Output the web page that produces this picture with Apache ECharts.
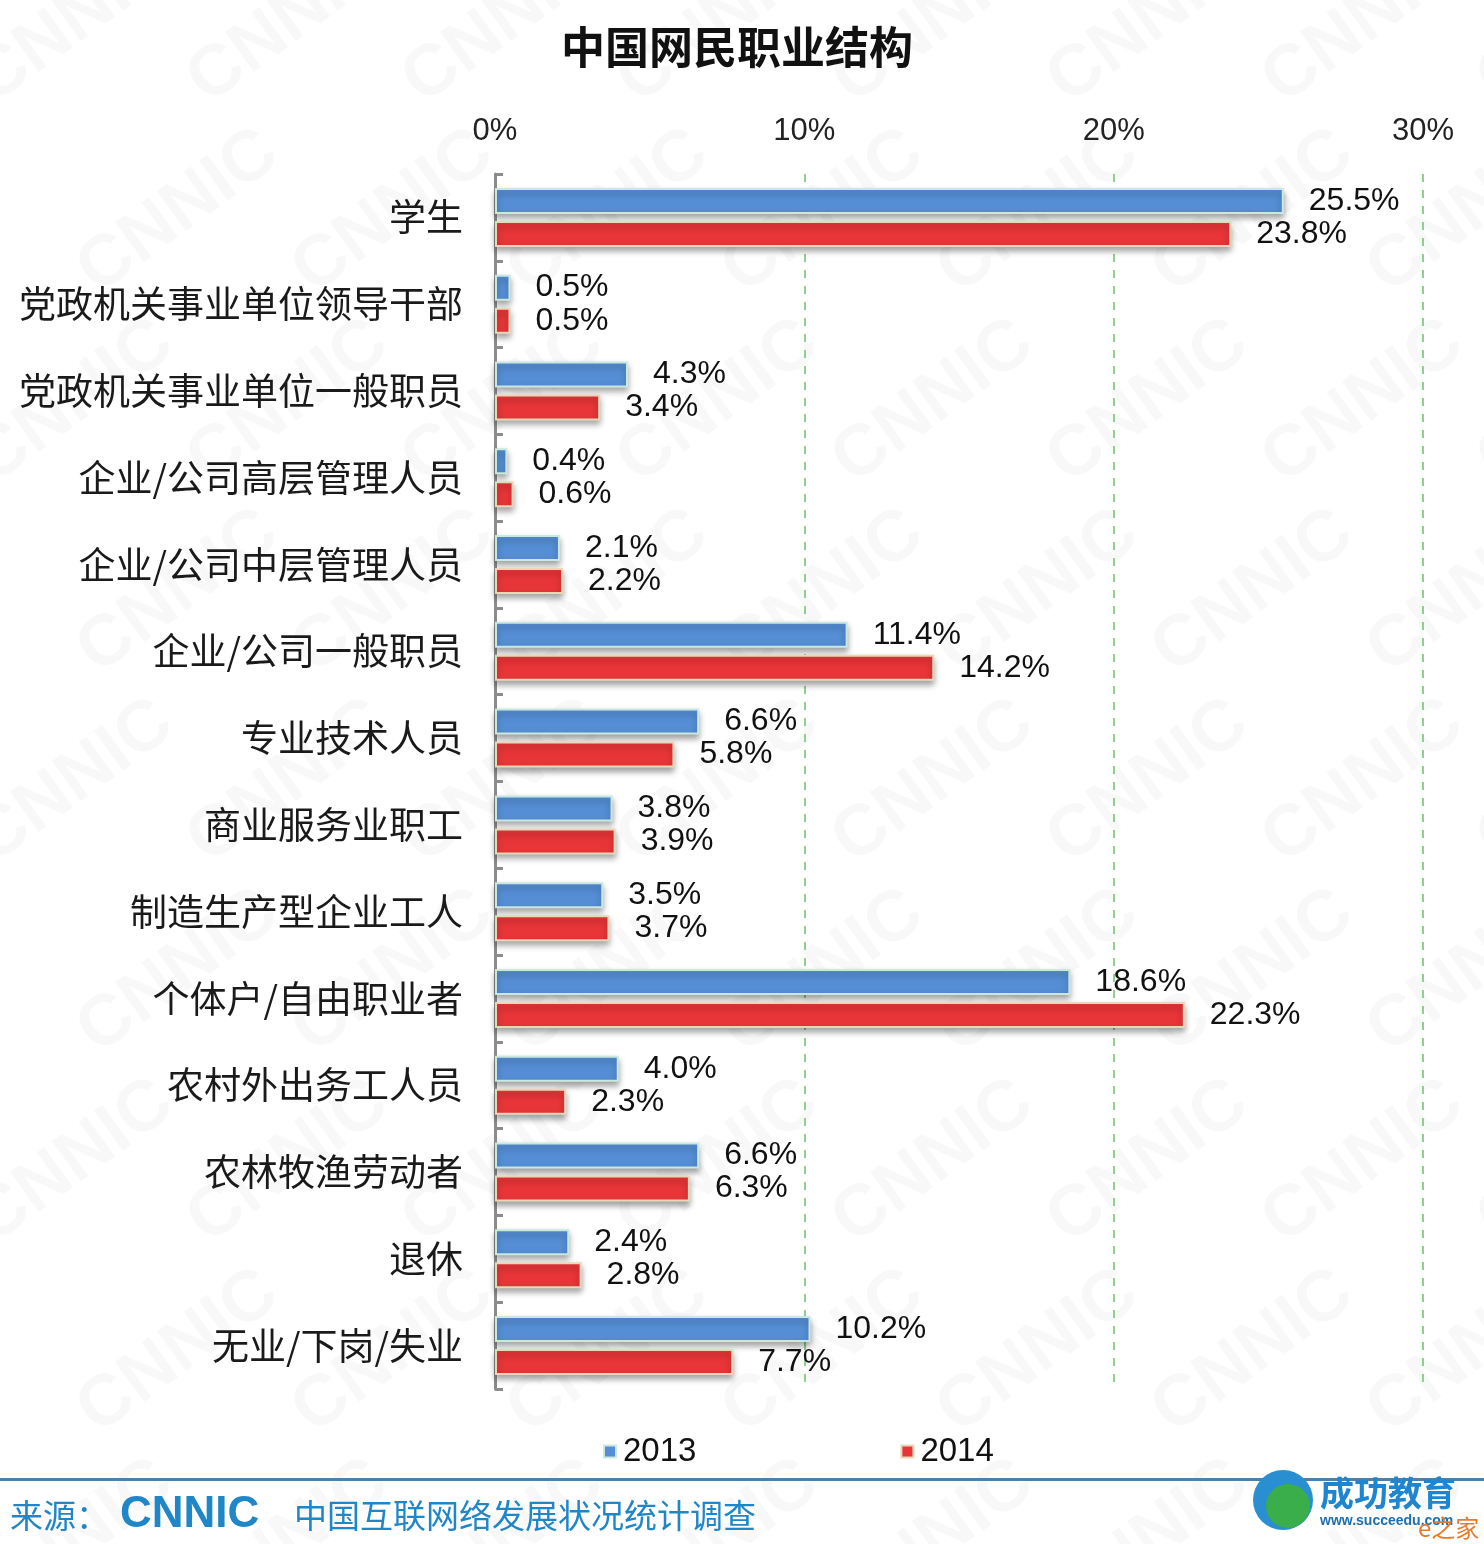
<!DOCTYPE html>
<html><head><meta charset="utf-8">
<script src="https://cdn.jsdelivr.net/npm/echarts@6/dist/echarts.min.js"></script>
<style>html,body{margin:0;padding:0;background:#fff}#c{width:1484px;height:1544px}</style>
</head><body><div id="c"></div>
<script>
const categories = ['学生','党政机关事业单位领导干部','党政机关事业单位一般职员','企业/公司高层管理人员','企业/公司中层管理人员','企业/公司一般职员','专业技术人员','商业服务业职工','制造生产型企业工人','个体户/自由职业者','农村外出务工人员','农林牧渔劳动者','退休','无业/下岗/失业'];
const values2013 = [25.5,0.5,4.3,0.4,2.1,11.4,6.6,3.8,3.5,18.6,4.0,6.6,2.4,10.2];
const values2014 = [23.8,0.5,3.4,0.6,2.2,14.2,5.8,3.9,3.7,22.3,2.3,6.3,2.8,7.7];
const seriesNames = ['2013','2014'];
const xTicks = [0,10,20,30];

const CJK = '"Noto Sans CJK SC", "Noto Sans", sans-serif';
const LAT = '"Liberation Sans", Arial, sans-serif';

const wm = [];
for (let r = 0; r < 9; r++) {
  for (let c = 0; c < 8; c++) {
    wm.push({type:'text', silent:true, z:-10,
      x: c*215 - 40 + (r%2)*105, y: r*190 + 60, rotation: Math.PI/5,
      style:{text:'CNNIC', font:'bold 72px "Liberation Sans", Arial', fill:'rgba(0,0,0,0.028)'}});
  }
}

const chart = echarts.init(document.getElementById('c'), null, {renderer:'canvas'});
chart.setOption({
  animation:false,
  backgroundColor:'#fff',
  title:{text:'中国网民职业结构', left:556, top:20,
    textStyle:{fontFamily:CJK, fontSize:44, fontWeight:'bold', color:'#111'}},
  grid:{left:495, right:61, top:174, bottom:155, containLabel:false},
  legend:{data:seriesNames, left:598, top:1430, itemWidth:12, itemHeight:12, itemGap:204,
    icon:'rect', textStyle:{fontFamily:LAT, fontSize:33, color:'#111', padding:[0,0,0,2]}},
  xAxis:{type:'value', position:'top', min:0, max:30, interval:10,
    axisLine:{show:false}, axisTick:{show:false},
    axisLabel:{formatter:'{value}%', fontFamily:LAT, fontSize:31, color:'#222', margin:27},
    splitLine:{show:true, lineStyle:{color:'#8fcf8f', type:[8,8], width:2}}},
  yAxis:{type:'category', data:categories, inverse:true,
    axisLine:{show:true, lineStyle:{color:'#8c8c8c', width:3}},
    axisTick:{show:true, inside:true, length:8, lineStyle:{color:'#8c8c8c', width:3}},
    axisLabel:{fontFamily:CJK, fontSize:37, color:'#1a1a1a', margin:32}},
  series:[
    {name:seriesNames[0], type:'bar', data:values2013, barWidth:26, barGap:'27%',
      itemStyle:{color:'#558ed5', borderColor:'#c8e8e0', borderWidth:2,
        shadowColor:'rgba(0,0,0,0.35)', shadowBlur:6, shadowOffsetY:4},
      label:{show:true, position:'right', distance:25, formatter:p=>p.value.toFixed(1)+'%',
        fontFamily:LAT, fontSize:32, color:'#111'}},
    {name:seriesNames[1], type:'bar', data:values2014, barWidth:26,
      itemStyle:{color:'#e83538', borderColor:'#e8d8b8', borderWidth:2,
        shadowColor:'rgba(0,0,0,0.35)', shadowBlur:6, shadowOffsetY:4},
      label:{show:true, position:'right', distance:25, formatter:p=>p.value.toFixed(1)+'%',
        fontFamily:LAT, fontSize:32, color:'#111'}}
  ],
  graphic: wm.concat([
    {type:'rect', shape:{x:0, y:1478, width:1484, height:3}, style:{fill:'#4f80aa'}},
    {type:'text', x:10, y:1499, style:{text:'来源：', font:'33px "Noto Sans CJK SC"', fill:'#1f86c8'}},
    {type:'text', x:120, y:1493, style:{text:'CNNIC', font:'bold 44px "Liberation Sans"', fill:'#1f86c8'}},
    {type:'text', x:294, y:1499, style:{text:'中国互联网络发展状况统计调查', font:'33px "Noto Sans CJK SC"', fill:'#1f86c8'}},
    {type:'circle', shape:{cx:1283, cy:1500, r:30}, style:{fill:'#2a8fd0'}},
    {type:'circle', shape:{cx:1288, cy:1506, r:22}, style:{fill:'#3aae4a'}},
    {type:'text', x:1320, y:1476, style:{text:'成功教育', font:'bold 34px "Noto Sans CJK SC"', fill:'#1e86d0'}},
    {type:'text', x:1320, y:1514, style:{text:'www.succeedu.com', font:'bold 14px "Liberation Sans"', fill:'#1e6fb0'}},
    {type:'text', x:1418, y:1516, style:{text:'e之家', font:'24px "Noto Sans CJK SC"', fill:'#e87a2a'}}
  ])
});
</script></body></html>
